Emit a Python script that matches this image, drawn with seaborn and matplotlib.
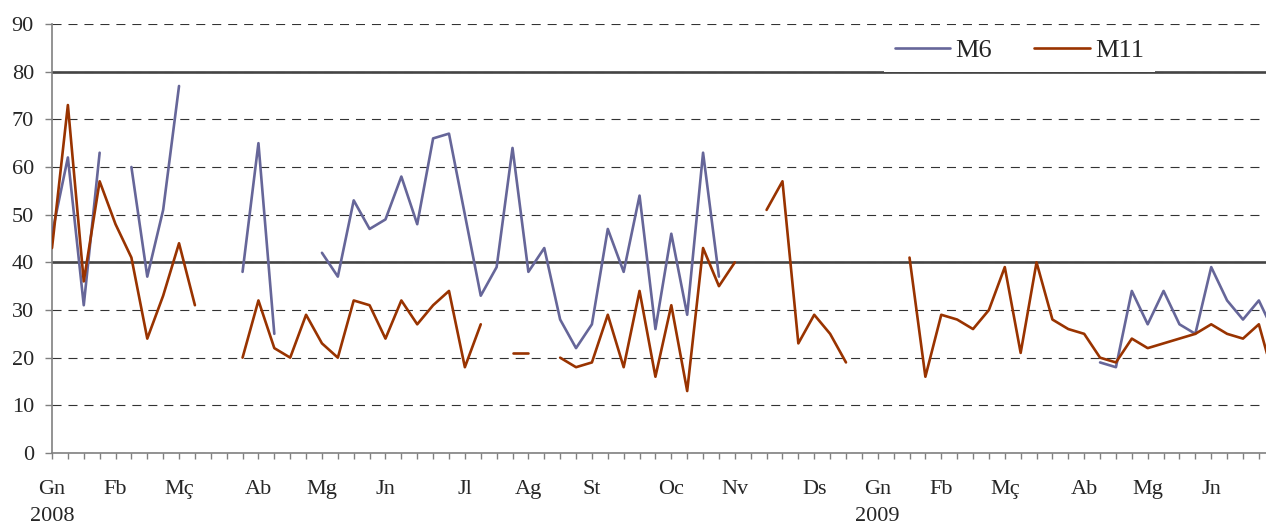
import numpy as np
import pandas as pd
import matplotlib.pyplot as plt
import seaborn as sns

nan = np.nan

# weekly values, Jan 2008 .. Jun 2009 (gaps = missing weeks)
m6 = [46, 62, 31, 63, nan, 60, 37, 51, 77, nan, nan, nan, 38, 65, 25, nan, nan,
      42, 37, 53, 47, 49, 58, 48, 66, 67, 50, 33, 39, 64, 38, 43, 28, 22, 27, 47,
      38, 54, 26, 46, 29, 63, 37,
      nan, nan, nan, nan, nan, nan, nan, nan, nan, nan, nan, nan, nan, nan, nan,
      nan, nan, nan, nan, nan, nan, nan, nan,
      19, 18, 34, 27, 34, 27, 25, 39, 32, 28, 32, 25]
m11 = [43, 73, 36, 57, 48, 41, 24, 33, 44, 31, nan, nan,
       20, 32, 22, 20, 29, 23, 20, 32, 31, 24, 32, 27, 31, 34, 18, 27, nan,
       21, 21, nan,
       20, 18, 19, 29, 18, 34, 16, 31, 13, 43, 35, 40, nan,
       51, 57, 23, 29, 25, 19, nan, nan, nan,
       41, 16, 29, 28, 26, 30, 39, 21, 40, 28, 26, 25, 20, 19, 24, 22, 23, 24,
       25, 27, 25, 24, 27, 15]

month_pos = [0, 4, 8, 13, 17, 21, 26, 30, 34, 39, 43, 48, 52, 56, 60, 65, 69, 73]
month_lbl = ['Gn\n2008', 'Fb', 'Mç', 'Ab', 'Mg', 'Jn', 'Jl', 'Ag', 'St', 'Oc',
             'Nv', 'Ds', 'Gn\n2009', 'Fb', 'Mç', 'Ab', 'Mg', 'Jn']
limits = [40, 80]

# long table, a new segment id after each gap so lines break there
rows = []
for name, vals in [('M6', m6), ('M11', m11)]:
    seg = 0
    for i, v in enumerate(vals):
        if np.isnan(v):
            seg += 1
            continue
        rows.append({'week': i, 'value': v, 'series': name, 'seg': f'{name}_{seg}'})
df = pd.DataFrame(rows)

sns.set_style('white')
plt.rcParams['font.family'] = ['Liberation Serif', 'DejaVu Serif']
plt.rcParams['lines.scale_dashes'] = False

fig = plt.figure(figsize=(12.66, 5.24), dpi=100)
ax = fig.add_axes([52 / 1266, 1 - 453 / 524, 1 - 52 / 1266, 429 / 524])

ax.set_axisbelow(True)
ax.yaxis.grid(True, color='#333333', linewidth=0.8, linestyle=(0, (6.5, 5)))
for lim in limits:
    ax.axhline(lim, color='#444444', linewidth=1.9, zorder=1)

sns.lineplot(data=df, x='week', y='value', hue='series', units='seg',
             estimator=None, palette={'M6': '#666699', 'M11': '#993300'},
             linewidth=1.9, ax=ax, zorder=3)

ax.set_xlim(0, 76.45)
ax.set_ylim(0, 90)
ax.set_yticks(range(0, 91, 10))
ax.set_xticks(month_pos)
ax.set_xticklabels(month_lbl, linespacing=1.55)
ax.set_xticks(range(0, 77), minor=True)
ax.set_xlabel('')
ax.set_ylabel('')

for s in ['top', 'right']:
    ax.spines[s].set_visible(False)
for s in ['left', 'bottom']:
    ax.spines[s].set_color('#808080')
    ax.spines[s].set_linewidth(1.2)

ax.tick_params(axis='y', which='major', left=True, direction='out', length=5,
               width=1, color='#808080', labelsize=16, pad=8)
ax.tick_params(axis='x', which='both', bottom=True, direction='out', length=4.5,
               width=1, color='#808080', labelsize=16, pad=15)

sns.move_legend(ax, 'center', bbox_to_anchor=(0.797, 0.939), ncol=2,
                title=None, frameon=True, fontsize=19, handlelength=2.1,
                handletextpad=0.2, columnspacing=1.6, borderpad=0.4)
leg = ax.get_legend()
leg.get_frame().set_facecolor('white')
leg.get_frame().set_edgecolor('none')
leg.get_frame().set_alpha(1)
leg.get_frame().set_boxstyle('square', pad=0)
for h in leg.legend_handles:
    h.set_linewidth(1.9)

fig.savefig('out.png', dpi=100)
